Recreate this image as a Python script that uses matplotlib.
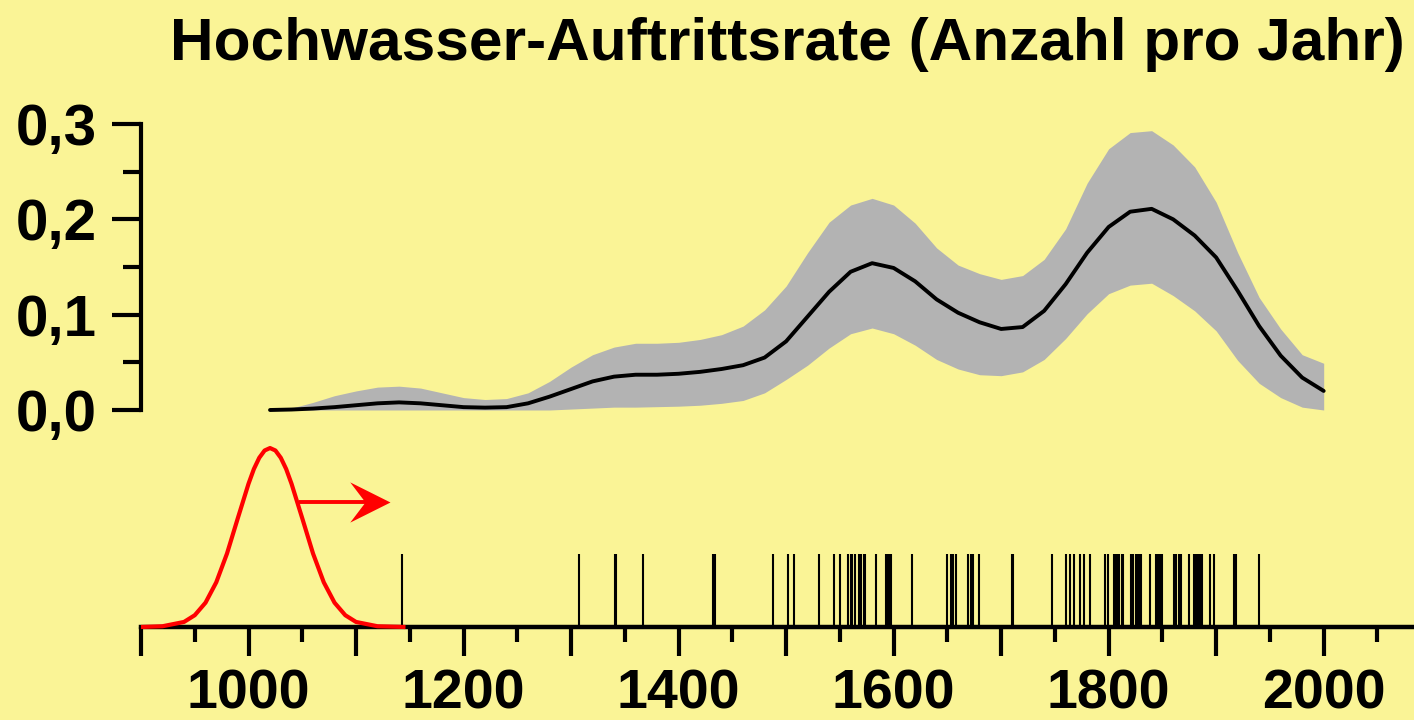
import matplotlib
matplotlib.use("Agg")
import matplotlib.pyplot as plt
from matplotlib.path import Path
from matplotlib.ticker import FixedLocator, FuncFormatter, MultipleLocator

# ---------------- data ----------------
years = [1020, 1040, 1060, 1080, 1100, 1120, 1140, 1160, 1180, 1200,
         1220, 1240, 1260, 1280, 1300, 1320, 1340, 1360, 1380, 1400,
         1420, 1440, 1460, 1480, 1500, 1520, 1540, 1560, 1580, 1600,
         1620, 1640, 1660, 1680, 1700, 1720, 1740, 1760, 1780, 1800,
         1820, 1840, 1860, 1880, 1900, 1920, 1940, 1960, 1980, 2000]

rate_mean = [0.000, 0.0005, 0.0015, 0.003, 0.005, 0.007, 0.008, 0.007, 0.005, 0.003,
             0.0025, 0.003, 0.007, 0.014, 0.022, 0.030, 0.035, 0.037, 0.037, 0.038,
             0.040, 0.043, 0.047, 0.055, 0.072, 0.098, 0.124, 0.145, 0.154, 0.149,
             0.135, 0.116, 0.102, 0.092, 0.085, 0.087, 0.104, 0.132, 0.165, 0.192,
             0.208, 0.211, 0.200, 0.183, 0.160, 0.125, 0.088, 0.057, 0.034, 0.020]

rate_upper = [0.000, 0.002, 0.008, 0.015, 0.020, 0.024, 0.025, 0.023, 0.018, 0.013,
              0.011, 0.012, 0.018, 0.030, 0.045, 0.058, 0.066, 0.070, 0.070, 0.071,
              0.074, 0.079, 0.088, 0.105, 0.130, 0.165, 0.197, 0.215, 0.222, 0.215,
              0.196, 0.170, 0.152, 0.143, 0.137, 0.141, 0.158, 0.190, 0.238, 0.274,
              0.291, 0.293, 0.278, 0.255, 0.218, 0.165, 0.118, 0.085, 0.058, 0.049]

rate_lower = [0.000, 0.000, 0.000, 0.000, 0.000, 0.000, 0.000, 0.000, 0.000, 0.000,
              0.000, 0.000, 0.000, 0.000, 0.001, 0.002, 0.003, 0.003, 0.0035, 0.004,
              0.005, 0.007, 0.010, 0.018, 0.032, 0.047, 0.065, 0.080, 0.086, 0.080,
              0.068, 0.053, 0.043, 0.037, 0.036, 0.040, 0.053, 0.075, 0.101, 0.122,
              0.131, 0.133, 0.120, 0.104, 0.083, 0.052, 0.028, 0.013, 0.003, 0.000]

# flood events (years)
flood_years = [1143, 1307, 1341, 1342, 1367, 1432, 1433, 1434, 1488, 1502, 1507,
               1531, 1545, 1550, 1558, 1560, 1561, 1564, 1568, 1570, 1572, 1573,
               1584, 1593, 1595, 1596, 1598, 1617, 1650, 1653, 1655, 1658,
               1669, 1672, 1674, 1679, 1710, 1711, 1747, 1760, 1764, 1768, 1773,
               1777, 1783, 1797, 1799, 1805, 1807, 1808, 1810, 1812, 1813,
               1821, 1823, 1825, 1827, 1829, 1830, 1838, 1844, 1846, 1848, 1850,
               1861, 1863, 1865, 1867, 1875, 1879, 1881, 1883, 1885, 1887,
               1894, 1898, 1917, 1918, 1940]

# red kernel shape (relative height in the lower panel)
kernel_years = [900, 920, 940, 950, 960, 970, 980, 990, 1000, 1005, 1010, 1015,
                1020, 1025, 1030, 1035, 1040, 1050, 1060, 1070, 1080, 1090,
                1100, 1120, 1146]
kernel_height = [0.000, 0.004, 0.027, 0.063, 0.130, 0.239, 0.393, 0.581, 0.766,
                 0.845, 0.905, 0.944, 0.957, 0.944, 0.905, 0.845, 0.766, 0.581,
                 0.393, 0.239, 0.130, 0.063, 0.027, 0.004, 0.000]

# shift arrow (years, height in lower panel)
arrow_start = 1047
arrow_end = 1132
arrow_height = 0.668

x_major_ticks = [900, 1000, 1100, 1200, 1300, 1400, 1500, 1600, 1700, 1800, 1900, 2000, 2100]
x_labels = ["", "1000", "", "1200", "", "1400", "", "1600", "", "1800", "", "2000", ""]
y_ticks = [0.0, 0.1, 0.2, 0.3]
y_labels = ["0,0", "0,1", "0,2", "0,3"]
title = "Hochwasser-Auftrittsrate (Anzahl pro Jahr)"

# ---------------- styling ----------------
BG = "#FAF496"
BAND = "#B3B3B3"
RED = "#FF0000"
FONT = "Liberation Sans"

W, H = 1414, 720
fig = plt.figure(figsize=(W / 100, H / 100), dpi=100)
fig.patch.set_facecolor(BG)

X0, X1 = 900, 2084
ax_left = 141 / W

# top axes (rate)
ax = fig.add_axes([ax_left, (H - 410) / H, 1 - ax_left, 286 / H])
ax.set_facecolor("none")
ax.set_xlim(X0, X1)
ax.set_ylim(0, 0.3)
ax.fill_between(years, rate_lower, rate_upper, color=BAND, lw=0, zorder=1)
ax.plot(years, rate_mean, color="black", lw=2.8, zorder=2,
        solid_capstyle="round", solid_joinstyle="round", clip_on=False)
for s in ["top", "right", "bottom"]:
    ax.spines[s].set_visible(False)
ax.spines["left"].set_linewidth(3)
ax.xaxis.set_visible(False)
ax.yaxis.set_major_locator(FixedLocator(y_ticks))
ax.yaxis.set_minor_locator(MultipleLocator(0.05))
ax.set_yticklabels(y_labels)
ax.tick_params(axis="y", which="major", length=21, width=3, pad=10.5,
               labelsize=42)
ax.tick_params(axis="y", which="minor", length=13, width=3)
for lab in ax.get_yticklabels():
    lab.set_fontfamily(FONT)
    lab.set_fontweight("bold")

# bottom axes (events + kernel)
bx = fig.add_axes([ax_left, (H - 627) / H, 1 - ax_left, 187 / H])
bx.set_facecolor("none")
bx.set_xlim(X0, X1)
bx.set_ylim(0, 1)
bx.vlines(flood_years, 0, 0.39, color="black", lw=1.5, zorder=2)
bx.plot(kernel_years, kernel_height, color=RED, lw=3, zorder=3,
        clip_on=False, solid_capstyle="butt", solid_joinstyle="round")
# arrow: shaft + stealth-shaped head marker
bx.plot([arrow_start, arrow_end - 6], [arrow_height, arrow_height],
        color=RED, lw=2.8, solid_capstyle="butt", zorder=3)
head = Path([(0, 0), (-1, 0.5), (-0.62, 0), (-1, -0.5), (0, 0)],
            [Path.MOVETO, Path.LINETO, Path.LINETO, Path.LINETO, Path.CLOSEPOLY])
bx.plot([arrow_end], [arrow_height], marker=head, markersize=58,
        color=RED, markeredgewidth=0, zorder=4, clip_on=False)

for s in ["top", "right", "left"]:
    bx.spines[s].set_visible(False)
bx.spines["bottom"].set_linewidth(3.2)
bx.yaxis.set_visible(False)
bx.xaxis.set_major_locator(FixedLocator(x_major_ticks))
bx.xaxis.set_minor_locator(MultipleLocator(50))
bx.xaxis.set_major_formatter(FuncFormatter(
    lambda v, p: x_labels[x_major_ticks.index(int(round(v)))]
    if int(round(v)) in x_major_ticks else ""))
bx.tick_params(axis="x", which="major", length=21, width=3, pad=9, labelsize=40)
bx.tick_params(axis="x", which="minor", length=11, width=3)
for lab in bx.get_xticklabels():
    lab.set_fontfamily(FONT)
    lab.set_fontweight("bold")

fig.text(787 / W, (H - 60) / H, title, ha="center", va="baseline",
         fontsize=43.5, fontweight="bold", family=FONT)

fig.savefig("out.png", dpi=100, facecolor=BG)
